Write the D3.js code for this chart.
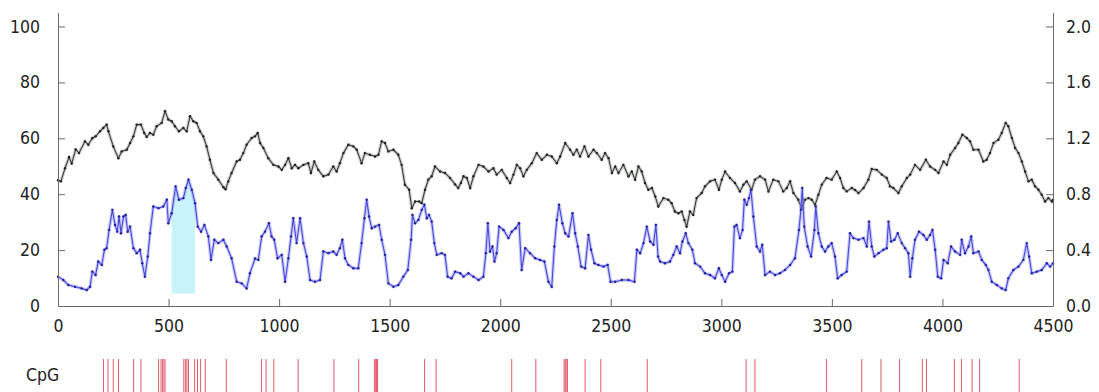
<!DOCTYPE html>
<html>
<head>
<meta charset="utf-8">
<script src="https://cdn.jsdelivr.net/npm/d3@7"></script>
<style>
  body { margin: 0; background: #fff; }
  svg { display: block; }
  .axis text { font-family: "DejaVu Sans Condensed", "DejaVu Sans", sans-serif; font-stretch: condensed; font-size: 17.5px; fill: #222; }
  .axis path, .axis line { stroke: #6a6a6a; }
</style>
</head>
<body>
<div id="chart"></div>
<script>
// GC content (%), left axis
const gc_pos = [0, 13, 32, 50, 62, 80, 95, 122, 137, 155, 170, 190, 205, 220, 228, 250, 273, 288, 311, 326, 341, 356, 375, 390, 401, 416, 431, 446, 469, 484, 499, 514, 529, 547, 567, 582, 597, 612, 627, 642, 657, 672, 687, 703, 725, 748, 758, 770, 785, 808, 823, 838, 853, 876, 891, 903, 914, 929, 951, 974, 997, 1012, 1027, 1042, 1057, 1072, 1087, 1110, 1132, 1144, 1159, 1177, 1200, 1223, 1245, 1260, 1275, 1291, 1313, 1336, 1351, 1373, 1388, 1411, 1434, 1449, 1464, 1479, 1494, 1517, 1539, 1554, 1569, 1588, 1600, 1615, 1633, 1645, 1660, 1675, 1690, 1705, 1728, 1750, 1773, 1796, 1810, 1822, 1834, 1849, 1864, 1879, 1902, 1924, 1947, 1969, 1984, 2007, 2030, 2045, 2060, 2075, 2090, 2105, 2120, 2143, 2165, 2188, 2211, 2233, 2256, 2271, 2294, 2316, 2331, 2346, 2361, 2381, 2399, 2422, 2437, 2459, 2474, 2490, 2505, 2520, 2535, 2557, 2580, 2595, 2610, 2625, 2640, 2655, 2670, 2686, 2701, 2715, 2738, 2760, 2775, 2790, 2806, 2821, 2833, 2843, 2858, 2873, 2888, 2911, 2926, 2949, 2971, 2989, 3002, 3017, 3039, 3062, 3084, 3100, 3115, 3137, 3152, 3175, 3198, 3213, 3235, 3258, 3280, 3296, 3311, 3326, 3348, 3363, 3378, 3394, 3409, 3424, 3439, 3454, 3476, 3499, 3522, 3537, 3552, 3567, 3590, 3605, 3620, 3643, 3665, 3680, 3703, 3726, 3748, 3763, 3778, 3801, 3816, 3839, 3854, 3876, 3899, 3925, 3944, 3967, 3982, 4005, 4020, 4035, 4057, 4072, 4090, 4110, 4125, 4140, 4163, 4185, 4200, 4215, 4231, 4253, 4268, 4286, 4298, 4314, 4329, 4344, 4359, 4374, 4389, 4404, 4419, 4434, 4449, 4464, 4479, 4495, 4500];
const gc_val = [45, 44.6, 49.3, 53.3, 51, 56, 54.7, 58.9, 57.7, 60, 60.7, 62.5, 63.7, 64.9, 62.5, 57.1, 52.9, 55.3, 55.9, 58.3, 60.7, 64.9, 64.9, 61.9, 60.5, 61.9, 61.3, 64.3, 65.5, 69.7, 66.7, 66.1, 64.3, 62.5, 63.7, 62.5, 67.9, 66.1, 65.5, 62.5, 60.7, 57.1, 52.3, 47.6, 45.2, 42.5, 41.8, 44.6, 47.6, 51.7, 52.3, 54.7, 57.7, 60.1, 60.7, 61.9, 58.3, 56.5, 52.9, 50.5, 49.9, 48.7, 50.5, 52.9, 49.3, 50.5, 49.3, 50.5, 51.1, 47.6, 51.7, 48.7, 46.4, 47, 49.9, 48.1, 51.1, 54.7, 57.7, 57.1, 55.9, 51.1, 54.7, 54.1, 53.5, 54.1, 58.9, 58.3, 55.3, 55.9, 54.1, 50.5, 43.4, 41.6, 35, 37.4, 37.4, 36.8, 41.6, 45.2, 46.4, 49.9, 48.1, 47.6, 45.8, 43.5, 42.2, 44, 46.4, 45.8, 42.2, 46.4, 50.5, 49.9, 48.1, 49.3, 47, 48.7, 45.8, 44, 47, 50.5, 49.3, 46.4, 48.7, 51.1, 54.7, 52.3, 54.1, 53.5, 51.1, 53.5, 58.3, 55.9, 54.1, 55.9, 53.5, 57.1, 53.5, 55.9, 54.7, 52.3, 54.7, 52.9, 47.6, 49.9, 47.6, 50.5, 46.4, 48.1, 45.2, 49.9, 48.1, 44, 41.6, 42.2, 39.2, 35.6, 38.6, 38, 36.8, 33.8, 33.2, 33.8, 30.8, 28.4, 33.8, 32.6, 38.6, 40.4, 42.8, 44.6, 45.2, 41.6, 45.2, 48.1, 45.8, 44, 41, 43.4, 44.6, 41.6, 45.2, 46.4, 45.2, 41, 45.2, 44.6, 41, 42.2, 44.6, 40.4, 38, 35, 38, 38.6, 38, 36.2, 39.8, 43.4, 45.8, 45.2, 48.1, 45.8, 42.2, 41, 42.2, 41.5, 40.4, 42.2, 45.2, 49, 48.7, 47, 45.8, 42.8, 42.2, 40.4, 42.8, 45.8, 47, 50.5, 48.7, 52.3, 49.9, 48.7, 47.6, 51.7, 50.5, 54.1, 56.5, 58.3, 61.3, 60.1, 58.9, 55.9, 55.9, 51.7, 52.3, 54.7, 58.3, 59.5, 61.9, 65.5, 64.3, 60.1, 56.5, 54.7, 51.7, 48.1, 44.6, 45.2, 42.8, 41.6, 39.8, 37.4, 38.6, 37.4, 38];

// CpG observed/expected ratio, right axis
const oe_pos = [0, 24, 47, 77, 107, 130, 145, 155, 170, 182, 198, 210, 220, 231, 246, 258, 268, 276, 285, 296, 306, 315, 326, 341, 356, 371, 381, 393, 406, 416, 431, 454, 476, 492, 499, 514, 532, 547, 567, 578, 590, 605, 620, 632, 647, 662, 680, 692, 707, 725, 748, 763, 785, 808, 831, 853, 868, 891, 906, 921, 936, 954, 966, 978, 993, 1012, 1027, 1042, 1054, 1064, 1079, 1095, 1110, 1125, 1140, 1162, 1185, 1200, 1223, 1245, 1260, 1275, 1286, 1298, 1313, 1336, 1358, 1373, 1386, 1396, 1407, 1419, 1434, 1452, 1464, 1479, 1494, 1517, 1539, 1562, 1582, 1597, 1603, 1615, 1630, 1645, 1657, 1668, 1678, 1690, 1702, 1713, 1735, 1750, 1762, 1780, 1796, 1819, 1834, 1856, 1879, 1902, 1924, 1935, 1944, 1954, 1965, 1974, 1984, 1995, 2015, 2037, 2052, 2070, 2085, 2097, 2113, 2135, 2158, 2180, 2200, 2218, 2233, 2245, 2256, 2266, 2281, 2294, 2309, 2327, 2339, 2351, 2366, 2384, 2399, 2411, 2426, 2444, 2467, 2486, 2499, 2520, 2550, 2580, 2607, 2618, 2633, 2648, 2663, 2678, 2693, 2704, 2714, 2723, 2745, 2768, 2783, 2798, 2813, 2824, 2839, 2851, 2869, 2881, 2904, 2926, 2949, 2971, 2989, 3002, 3017, 3035, 3050, 3059, 3069, 3084, 3096, 3104, 3115, 3125, 3134, 3145, 3160, 3175, 3185, 3198, 3220, 3243, 3265, 3288, 3311, 3333, 3351, 3360, 3366, 3375, 3390, 3406, 3421, 3427, 3439, 3454, 3469, 3484, 3499, 3514, 3526, 3544, 3567, 3582, 3597, 3620, 3643, 3658, 3668, 3680, 3692, 3711, 3733, 3748, 3756, 3768, 3783, 3798, 3816, 3831, 3846, 3854, 3864, 3876, 3894, 3914, 3929, 3944, 3955, 3967, 3979, 3994, 4005, 4024, 4039, 4057, 4080, 4087, 4102, 4118, 4130, 4140, 4163, 4178, 4196, 4208, 4223, 4246, 4268, 4286, 4298, 4321, 4344, 4366, 4381, 4392, 4404, 4427, 4449, 4472, 4487, 4500];
const oe_val = [0.21, 0.186, 0.15, 0.138, 0.126, 0.114, 0.138, 0.246, 0.222, 0.318, 0.294, 0.402, 0.414, 0.544, 0.688, 0.58, 0.532, 0.64, 0.52, 0.64, 0.652, 0.532, 0.568, 0.414, 0.378, 0.402, 0.306, 0.21, 0.354, 0.52, 0.712, 0.70, 0.712, 0.76, 0.592, 0.664, 0.856, 0.76, 0.772, 0.844, 0.904, 0.832, 0.736, 0.568, 0.532, 0.58, 0.498, 0.33, 0.474, 0.45, 0.474, 0.426, 0.342, 0.174, 0.162, 0.126, 0.234, 0.34, 0.33, 0.498, 0.532, 0.592, 0.498, 0.474, 0.342, 0.366, 0.174, 0.342, 0.498, 0.628, 0.45, 0.628, 0.45, 0.354, 0.186, 0.174, 0.186, 0.39, 0.378, 0.39, 0.366, 0.414, 0.474, 0.342, 0.294, 0.27, 0.27, 0.45, 0.628, 0.76, 0.64, 0.556, 0.568, 0.58, 0.474, 0.366, 0.162, 0.138, 0.15, 0.21, 0.258, 0.474, 0.652, 0.592, 0.616, 0.688, 0.724, 0.628, 0.652, 0.604, 0.45, 0.366, 0.378, 0.366, 0.21, 0.198, 0.246, 0.234, 0.21, 0.234, 0.21, 0.186, 0.21, 0.378, 0.592, 0.39, 0.426, 0.318, 0.378, 0.568, 0.544, 0.486, 0.532, 0.556, 0.592, 0.258, 0.414, 0.378, 0.342, 0.33, 0.318, 0.174, 0.138, 0.426, 0.616, 0.724, 0.592, 0.52, 0.498, 0.664, 0.52, 0.426, 0.282, 0.27, 0.508, 0.402, 0.306, 0.294, 0.282, 0.294, 0.174, 0.174, 0.186, 0.186, 0.174, 0.402, 0.378, 0.45, 0.568, 0.462, 0.438, 0.58, 0.354, 0.318, 0.306, 0.318, 0.366, 0.426, 0.378, 0.462, 0.52, 0.45, 0.402, 0.306, 0.282, 0.234, 0.222, 0.198, 0.27, 0.222, 0.174, 0.234, 0.246, 0.568, 0.58, 0.486, 0.544, 0.76, 0.724, 0.772, 0.832, 0.64, 0.426, 0.39, 0.438, 0.222, 0.246, 0.222, 0.234, 0.258, 0.294, 0.342, 0.544, 0.688, 0.844, 0.568, 0.426, 0.354, 0.544, 0.712, 0.52, 0.426, 0.39, 0.426, 0.45, 0.354, 0.198, 0.222, 0.246, 0.52, 0.486, 0.474, 0.486, 0.426, 0.604, 0.426, 0.354, 0.378, 0.402, 0.414, 0.604, 0.462, 0.474, 0.52, 0.45, 0.414, 0.378, 0.21, 0.342, 0.474, 0.532, 0.508, 0.474, 0.508, 0.544, 0.402, 0.21, 0.198, 0.33, 0.306, 0.426, 0.39, 0.366, 0.474, 0.378, 0.426, 0.498, 0.378, 0.39, 0.33, 0.294, 0.258, 0.174, 0.15, 0.126, 0.114, 0.198, 0.258, 0.282, 0.33, 0.45, 0.354, 0.234, 0.246, 0.258, 0.306, 0.282, 0.306];

// predicted CpG island (shaded)
const island = [511, 620];
const island_floor = 0.09;

// CpG site positions
const cpg_sites = [206, 226, 250, 274, 342, 375, 455, 466, 472, 479, 484, 569, 576, 583, 590, 618, 631, 645, 666, 761, 920, 941, 976, 1086, 1248, 1360, 1432, 1437, 1441, 1445, 1658, 1710, 2052, 2161, 2289, 2294, 2298, 2304, 2384, 2455, 2665, 3112, 3152, 3476, 3635, 3722, 3806, 3909, 3928, 4054, 4086, 4134, 4168, 4347];

const x_ticks = [0, 500, 1000, 1500, 2000, 2500, 3000, 3500, 4000, 4500];
const left_ticks = [0, 20, 40, 60, 80, 100];
const right_ticks = [0, 0.4, 0.8, 1.2, 1.6, 2.0];

const width = 1099;
const height = 392;
const margin = { left: 58, right: 46, top: 12.5, bottom: 86 };
const plot_bottom = height - margin.bottom;

const svg = d3.select('#chart')
    .append('svg')
    .attr('width', width)
    .attr('height', height);

svg.append('rect').attr('width', width).attr('height', height).attr('fill', '#fff');

const x = d3.scaleLinear().domain([0, 4500]).range([margin.left, width - margin.right]);
const y_left = d3.scaleLinear().domain([0, 105]).range([plot_bottom, margin.top]);
const y_right = d3.scaleLinear().domain([0, 2.1]).range([plot_bottom, margin.top]);

const gc = gc_pos.map((p, i) => ({ p, v: gc_val[i] }));
const oe = oe_pos.map((p, i) => ({ p, v: oe_val[i] }));

// shaded island under the ratio line
const island_pts = oe.filter(d => d.p >= island[0] && d.p <= island[1]);
const area = d3.area()
    .x(d => x(d.p))
    .y0(y_right(island_floor))
    .y1(d => y_right(d.v));

svg.append('path')
    .datum(island_pts)
    .attr('fill', '#c9f3fa')
    .attr('d', area);

// lines, a soft halo under a thin core
function draw_line(data, y, halo, core, dot) {
    const line = d3.line().x(d => x(d.p)).y(d => y(d.v));
    svg.append('path').datum(data)
        .attr('fill', 'none')
        .attr('stroke', halo)
        .attr('stroke-width', 3.4)
        .attr('stroke-linejoin', 'round')
        .attr('d', line);
    svg.append('path').datum(data)
        .attr('fill', 'none')
        .attr('stroke', core)
        .attr('stroke-width', 1.1)
        .attr('d', line);
    svg.append('g').selectAll('circle')
        .data(data)
        .enter()
        .append('circle')
        .attr('cx', d => x(d.p))
        .attr('cy', d => y(d.v))
        .attr('r', 1.2)
        .attr('fill', dot);
}

draw_line(gc, y_left, 'rgba(160,165,160,0.5)', '#3a3f3a', '#222');
draw_line(oe, y_right, 'rgba(150,150,240,0.5)', '#4848dc', '#2020a0');

// axes
svg.append('g')
    .attr('class', 'axis')
    .attr('transform', `translate(${margin.left},0)`)
    .call(d3.axisLeft(y_left).tickValues(left_ticks).tickSize(-7).tickSizeOuter(0).tickPadding(18).tickFormat(d3.format('d')));

svg.append('g')
    .attr('class', 'axis')
    .attr('transform', `translate(${width - margin.right},0)`)
    .call(d3.axisRight(y_right).tickValues(right_ticks).tickSize(-7).tickSizeOuter(0).tickPadding(13).tickFormat(d3.format('.1f')));

svg.append('g')
    .attr('class', 'axis')
    .attr('transform', `translate(0,${plot_bottom})`)
    .call(d3.axisBottom(x).tickValues(x_ticks).tickSize(-7).tickSizeOuter(0).tickPadding(14).tickFormat(d3.format('d')));

// CpG track
svg.append('text')
    .attr('x', 26)
    .attr('y', 375)
    .attr('dy', '0.35em')
    .style('font-family', '"DejaVu Sans Condensed", "DejaVu Sans", sans-serif')
    .style('font-stretch', 'condensed')
    .style('font-size', '17.5px')
    .style('fill', '#222')
    .text('CpG');

svg.append('g').selectAll('line')
    .data(cpg_sites)
    .enter()
    .append('line')
    .attr('x1', d => x(d))
    .attr('x2', d => x(d))
    .attr('y1', 359)
    .attr('y2', 392)
    .attr('stroke', '#e05a68')
    .attr('stroke-width', 1);
</script>
</body>
</html>
